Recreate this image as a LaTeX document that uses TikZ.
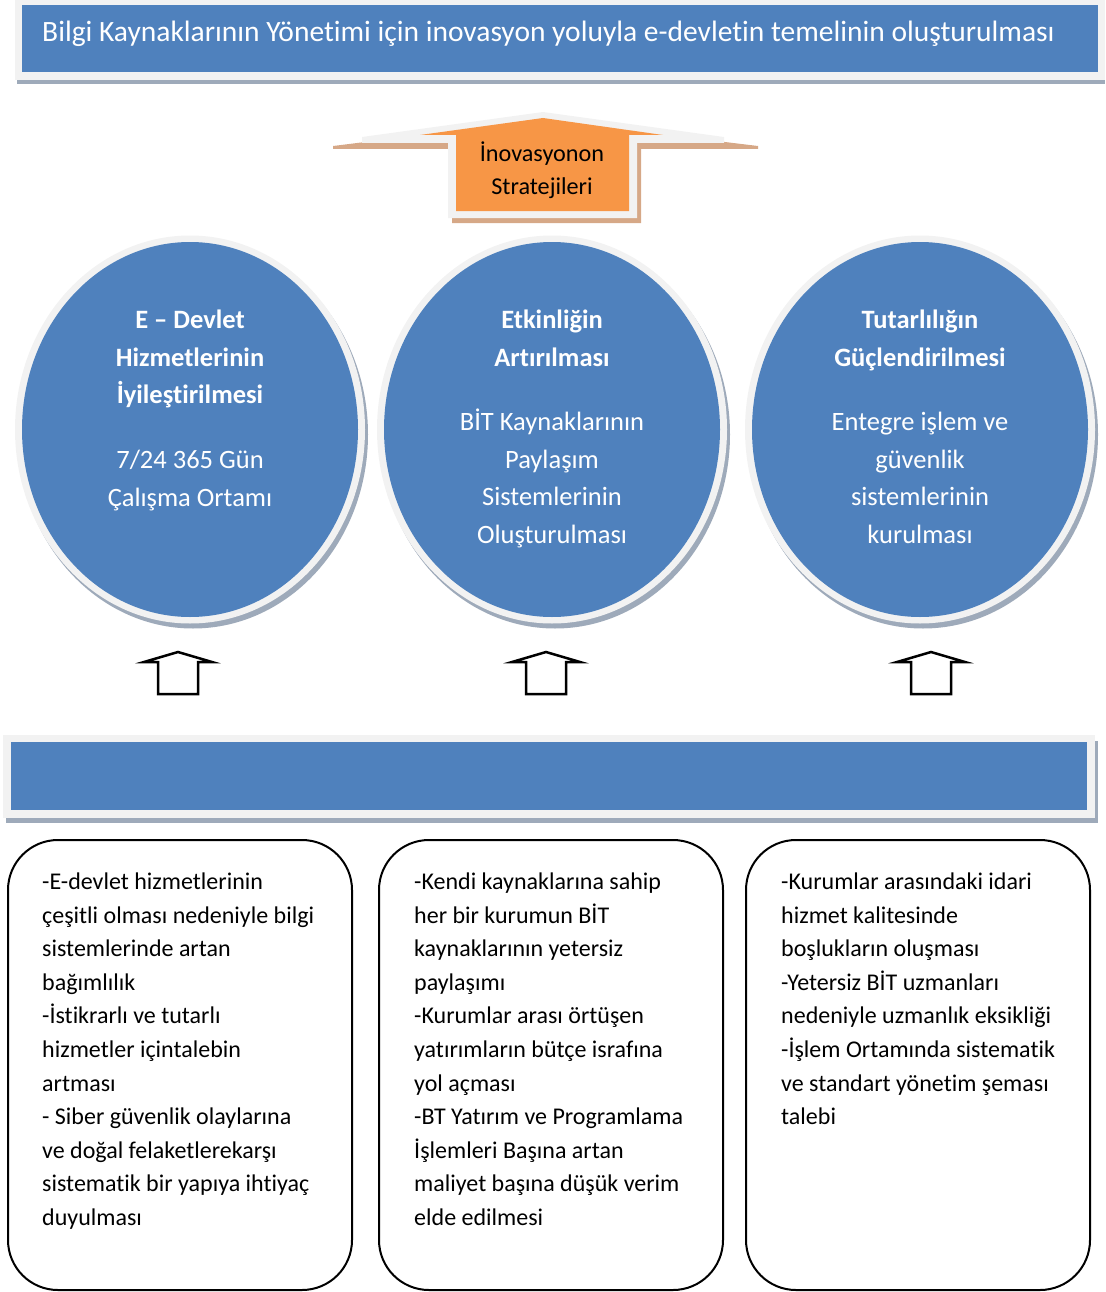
\documentclass[tikz,border=0pt]{standalone}
\usepackage{fontspec}
\setmainfont{Carlito}[Ligatures=NoCommon]
\usetikzlibrary{shapes.geometric}

\definecolor{officeblue}{HTML}{4F81BD}
\definecolor{framegray}{HTML}{F2F2F2}
\definecolor{shadowgray}{HTML}{9EAABA}
\definecolor{orangefill}{HTML}{F79646}
\definecolor{tanshadow}{HTML}{D6A887}

\tikzset{
  bodytext/.style={anchor=north west, inner sep=0pt, align=left,
    font=\fontsize{24}{33.6}\selectfont},
  circletext/.style={anchor=north, inner sep=0pt, align=center, text=white,
    font=\fontsize{26.5}{37.5}\selectfont},
  circlehead/.style={circletext, font=\bfseries\fontsize{26.5}{37.5}\selectfont},
  blob/.style={ellipse, fill=officeblue, minimum width=336pt,
    minimum height=375pt, inner sep=0pt},
  listbox/.style={draw=black, line width=2pt, rectangle, rounded corners=50pt,
    minimum width=344pt, minimum height=450pt, inner sep=0pt},
  uparrow/.style={draw=black, fill=white, line width=2.5pt, line join=miter}
}

\begin{document}
\begin{tikzpicture}[x=1pt,y=-1pt]
\useasboundingbox (0,0) rectangle (1105,1292);

% title banner
\fill[shadowgray] (17,78) rectangle (1105,84);
\fill[framegray] (15,0) rectangle (1105,80);
\fill[officeblue] (22,5) rectangle (1098,72);
\node[anchor=base, inner sep=0pt, text=white, font=\fontsize{29.5}{34}\selectfont]
  (title) at (548.5,41.7) {Bilgi Kaynaklarının Yönetimi için inovasyon yoluyla e-devletin temelinin oluşturulması};

% strategy arrow
\fill[tanshadow] (543,120) -- (758,146) -- (758,149) -- (641,149) -- (641,223)
  -- (452,223) -- (452,149) -- (333,149) -- (333,146) -- cycle;
\fill[framegray] (543,112) -- (724,137) -- (724,143) -- (637,143) -- (637,218)
  -- (448,218) -- (448,143) -- (362,143) -- (362,137) -- cycle;
\fill[orangefill] (543,118) -- (663,135) -- (629,135) -- (629,211)
  -- (456,211) -- (456,135) -- (420,135) -- cycle;
\node[anchor=north, inner sep=0pt, align=center,
  font=\fontsize{24.2}{33}\selectfont] (strat) at (542,138.6)
  {\strut İnovasyonon\\Stratejileri};

% three goal ellipses
\foreach \cx/\nm in {190/c1, 552/c2, 920/c3}{
  \fill[shadowgray] (\cx+3,434.5) ellipse (175 and 194);
  \fill[framegray] (\cx,429.5) ellipse (175 and 194);
  \node[blob] (\nm) at (\cx,429.5) {};
}

\node[circlehead] (c1head) at (190,302.2)
  {\strut E – Devlet\\Hizmetlerinin\\İyileştirilmesi};
\node[circletext] (c1body) at (190,442.5) {\strut 7/24 365 Gün\\Çalışma Ortamı};

\node[circlehead] (c2head) at (552,302.2)
  {\strut Etkinliğin\\Artırılması};
\node[circletext] (c2body) at (552,404.5)
  {\strut BİT Kaynaklarının\\Paylaşım\\Sistemlerinin\\Oluşturulması};

\node[circlehead] (c3head) at (920,302.2)
  {\strut Tutarlılığın\\Güçlendirilmesi};
\node[circletext] (c3body) at (920,404.5)
  {\strut Entegre işlem ve\\güvenlik\\sistemlerinin\\kurulması};

% small hollow arrows
\foreach \cx/\nm in {178/a1, 546/a2, 931/a3}{
  \draw[uparrow] (\cx,652) -- (\cx+34,662) -- (\cx+20,662) -- (\cx+20,694)
    -- (\cx-20,694) -- (\cx-20,662) -- (\cx-34,662) -- cycle;
  \coordinate (\nm) at (\cx,673);
}

% lower banner
\fill[shadowgray] (6,741) rectangle (1098,823);
\fill[framegray] (3,735) rectangle (1095,818);
\fill[officeblue] (11,742) rectangle (1087,810);

% problem boxes
\node[listbox] (b1) at (180,1065) {};
\node[listbox] (b2) at (551,1065) {};
\node[listbox] (b3) at (918,1065) {};

\node[bodytext] (t1) at (42,865.8) {\strut -E-devlet hizmetlerinin\\
çeşitli olması nedeniyle bilgi\\
sistemlerinde artan\\
bağımlılık\\
-İstikrarlı ve tutarlı\\
hizmetler içintalebin\\
artması\\
- Siber güvenlik olaylarına\\
ve doğal felaketlerekarşı\\
sistematik bir yapıya ihtiyaç\\
duyulması};

\node[bodytext] (t2) at (414,865.8) {\strut -Kendi kaynaklarına sahip\\
her bir kurumun BİT\\
kaynaklarının yetersiz\\
paylaşımı\\
-Kurumlar arası örtüşen\\
yatırımların bütçe israfına\\
yol açması\\
-BT Yatırım ve Programlama\\
İşlemleri Başına artan\\
maliyet başına düşük verim\\
elde edilmesi};

\node[bodytext] (t3) at (781,865.8) {\strut -Kurumlar arasındaki idari\\
hizmet kalitesinde\\
boşlukların oluşması\\
-Yetersiz BİT uzmanları\\
nedeniyle uzmanlık eksikliği\\
-İşlem Ortamında sistematik\\
ve standart yönetim şeması\\
talebi};
\end{tikzpicture}
\end{document}
